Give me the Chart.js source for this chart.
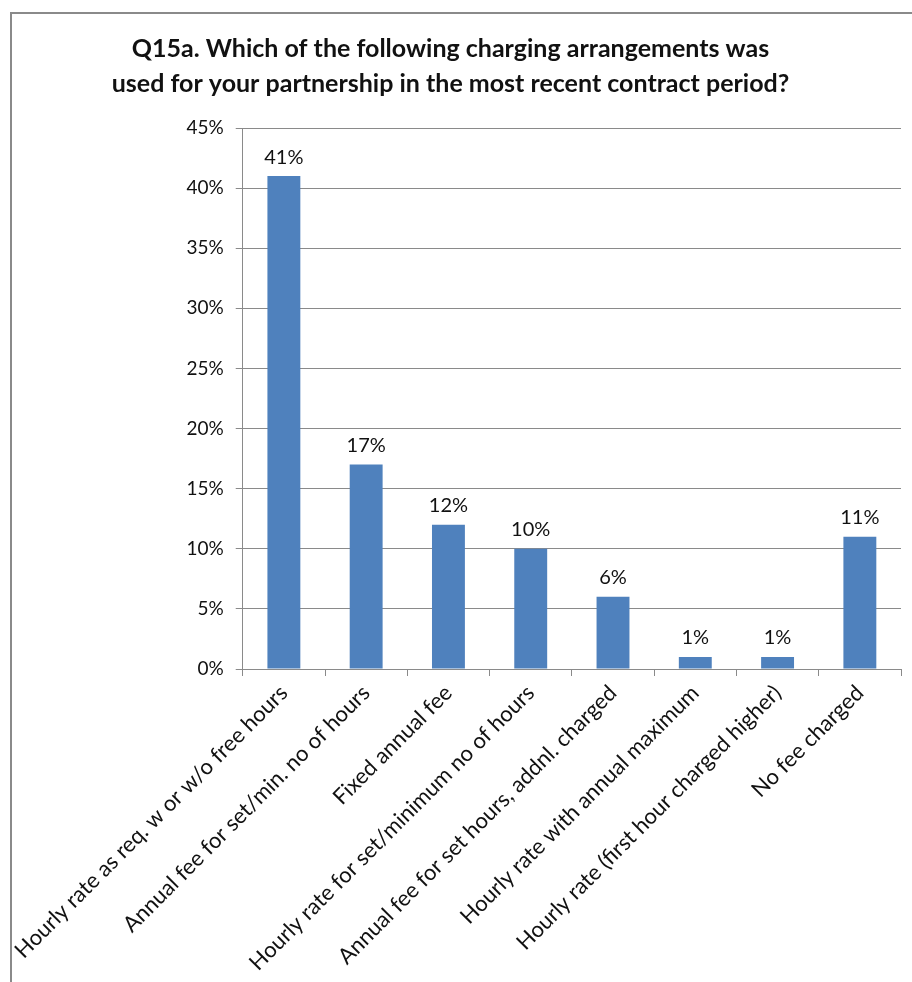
<!DOCTYPE html>
<html>
<head>
<meta charset="utf-8">
<script src="https://cdn.jsdelivr.net/npm/chart.js@4.4.1/dist/chart.umd.min.js"></script>
<style>
  html, body { margin: 0; padding: 0; background: #fff; overflow: hidden; }
  #wrap { position: relative; width: 912px; height: 982px; }
  #frame {
    position: absolute; left: 10px; top: 12px; width: 960px; height: 1000px;
    border-left: 2px solid #8a8a8a; border-top: 2px solid #8a8a8a;
  }
  canvas { position: absolute; left: 0; top: 0; }
</style>
</head>
<body>
<div id="wrap">
  <div id="frame"></div>
  <canvas id="myChart" width="912" height="982"></canvas>
</div>
<script>
const categories = [
  "Hourly rate as req. w or w/o free hours",
  "Annual fee for set/min. no of hours",
  "Fixed annual fee",
  "Hourly rate for set/minimum no of hours",
  "Annual fee for set hours, addnl. charged",
  "Hourly rate with annual maximum",
  "Hourly rate (first hour charged higher)",
  "No fee charged",
];
const percentValues = [41, 17, 12, 10, 6, 1, 1, 11];
const yTicks = [0, 5, 10, 15, 20, 25, 30, 35, 40, 45];

const fontName = "Lato, 'Open Sans', sans-serif";

// Prozentwerte oberhalb der Balken schreiben
const barLabels = {
  id: "barLabels",
  afterDatasetsDraw(chart) {
    const ctx = chart.ctx;
    const meta = chart.getDatasetMeta(0);
    ctx.save();
    ctx.font = "20px " + fontName;
    ctx.fillStyle = "#111";
    ctx.textAlign = "center";
    ctx.textBaseline = "bottom";
    meta.data.forEach((bar, i) => {
      ctx.fillText(percentValues[i] + "%", bar.x, bar.y - 9);
    });
    ctx.restore();
  },
};

const ctx = document.getElementById("myChart");

new Chart(ctx, {
  type: "bar",
  data: {
    labels: categories,
    datasets: [
      {
        label: "Q15a",
        data: percentValues,
        backgroundColor: "#4f81bd",
        borderWidth: 0,
        barPercentage: 0.4,
        categoryPercentage: 1,
      },
    ],
  },
  options: {
    responsive: false,
    animation: false,
    layout: { padding: { left: 0, right: 11, bottom: 0 } },
    plugins: {
      legend: { display: false },
      tooltip: { enabled: false },
      title: {
        display: true,
        text: [
          "Q15a. Which of the following charging arrangements was",
          "used for your partnership in the most recent contract period?",
        ],
        color: "#111",
        font: { family: fontName, size: 25, weight: "bold", lineHeight: 1.4 },
        padding: { top: 31, bottom: 27 },
      },
    },
    scales: {
      x: {
        grid: {
          drawOnChartArea: false,
          color: "#8a8a8a",
          tickLength: 7,
        },
        border: { color: "#8a8a8a" },
        ticks: {
          color: "#111",
          font: { family: fontName, size: 22 },
          maxRotation: 45,
          minRotation: 45,
          padding: 4,
          autoSkip: false,
        },
        afterFit: (scale) => {
          scale.height = 313;
        },
      },
      y: {
        min: 0,
        max: 45,
        afterBuildTicks: (scale) => {
          scale.ticks = yTicks.map((v) => ({ value: v }));
        },
        grid: {
          color: "#8a8a8a",
          tickLength: 7,
        },
        border: { color: "#8a8a8a" },
        ticks: {
          color: "#111",
          font: { family: fontName, size: 19 },
          padding: 12,
          callback: (v) => v + "%",
        },
        afterFit: (scale) => {
          scale.width = 237;
        },
      },
    },
  },
  plugins: [barLabels],
});
</script>
</body>
</html>
